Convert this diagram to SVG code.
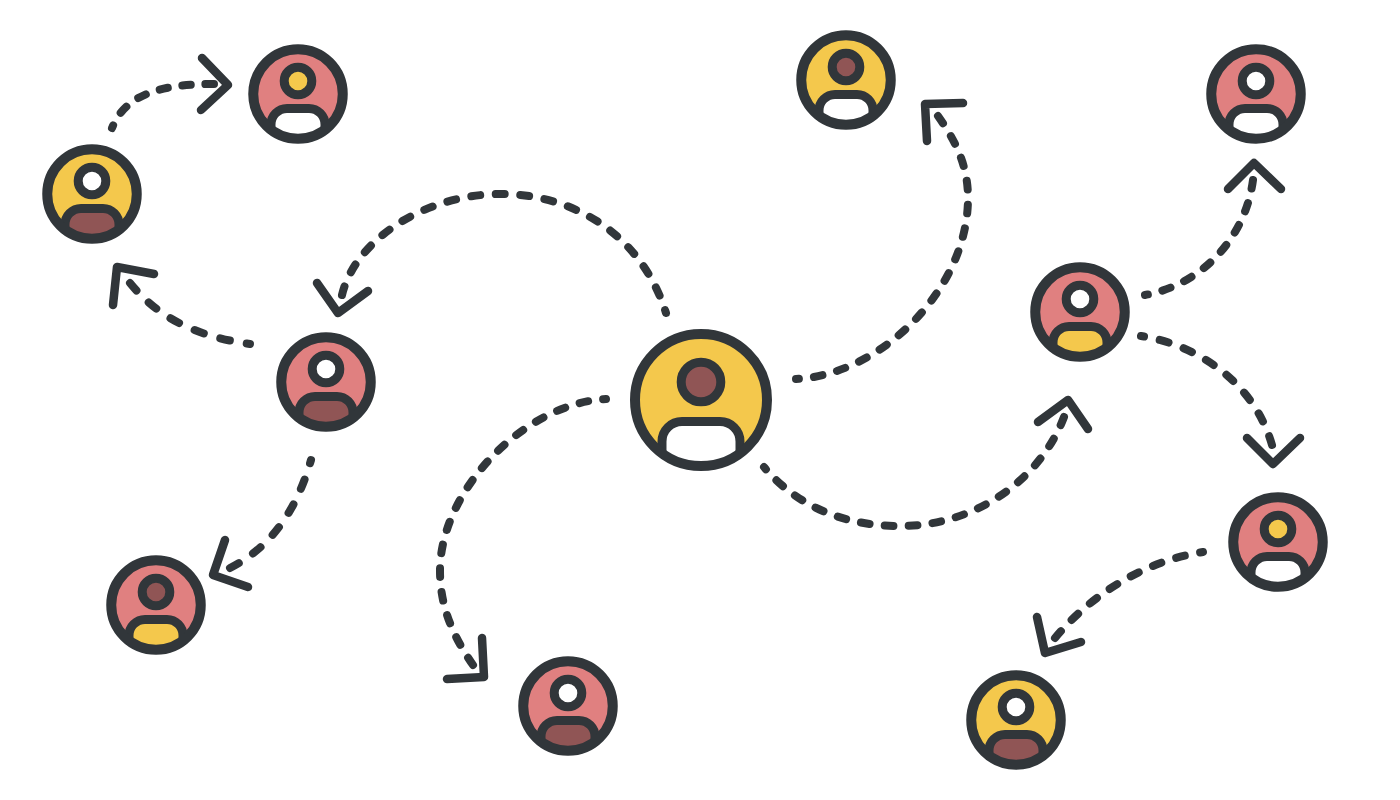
<svg xmlns="http://www.w3.org/2000/svg" width="1400" height="800" viewBox="0 0 1400 800">
<style>
.ring{fill:none;stroke:#31363a;stroke-width:10}
.part{stroke:#31363a;stroke-width:9;stroke-linejoin:round}
.y{fill:#f4c84c}.p{fill:#e08080}.b{fill:#905555}.w{fill:#fff}
.dash{fill:none;stroke:#31363a;stroke-width:8;stroke-linecap:round;stroke-dasharray:9 15.700;stroke-dashoffset:6}
.head{fill:none;stroke:#31363a;stroke-width:8.500;stroke-linecap:round;stroke-linejoin:round}
</style>
<defs>
<clipPath id="cs"><circle r="44.750"/></clipPath>
<clipPath id="cl"><circle r="66"/></clipPath>
<circle id="sbg" r="44.750"/>
<circle id="shead" cy="-13" r="13.800" class="part"/>
<path id="sbody" d="M-27 50V30.500A16 16 0 0 1-11 14.500H11A16 16 0 0 1 27 30.500V50Z" class="part" clip-path="url(#cs)"/>
<circle id="sring" r="44.750" class="ring"/>
</defs>
<rect width="1400" height="800" fill="#fff"/>
<g id="connectors">
<path class="dash" pathLength="126.500" d="M112 128C125 95 160 84 214 84"/><path class="head" d="M202 58L228 85L201 110"/>
<path class="dash" pathLength="422.900" d="M666 313C642 236 575 194 501 194C425 194 355 240 342 295"/><path class="head" d="M317 283L338 313L368 291"/>
<path class="dash" pathLength="126.500" d="M250 344C200 337 160 320 130 283"/><path class="head" d="M113 305L117 267L154 274"/>
<path class="dash" pathLength="126.500" d="M311 460C298 505 275 545 230 568"/><path class="head" d="M225 540L213 575L248 587"/>
<path class="dash" pathLength="373.500" d="M606 399C525 403 440 490 440 571C440 605 452 635 473 665"/><path class="head" d="M482 638L484 677L447 679"/>
<path class="dash" pathLength="373.500" d="M796 379C880 375 968 290 968 198C968 165 955 140 938 116"/><path class="head" d="M927 141L925 104L963 103"/>
<path class="dash" pathLength="373.500" d="M764 467C800 510 850 526 900 526C975 526 1040 480 1064 417"/><path class="head" d="M1038 422L1068 400L1088 429"/>
<path class="dash" pathLength="175.900" d="M1145 295C1200 285 1245 240 1253 180"/><path class="head" d="M1228 189L1254 163L1281 189"/>
<path class="dash" pathLength="175.900" d="M1141 336C1200 345 1255 385 1272 445"/><path class="head" d="M1247 438L1273 464L1300 438"/>
<path class="dash" pathLength="175.900" d="M1203 552C1150 560 1095 590 1055 638"/><path class="head" d="M1037 617L1045 653L1081 642"/>
</g>
<g id="n0" transform="translate(701 400)"><circle r="66" class="y"/><circle cy="-18" r="19.800" class="part b"/><path d="M-39 70V41.500A20 20 0 0 1-19 21.500H19A20 20 0 0 1 39 41.500V70Z" class="part w" clip-path="url(#cl)"/><circle r="66" class="ring"/></g>
<g id="n1" transform="translate(298 94)"><use href="#sbg" class="p"/><use href="#shead" class="y"/><use href="#sbody" class="w"/><use href="#sring"/></g>
<g id="n2" transform="translate(92 194)"><use href="#sbg" class="y"/><use href="#shead" class="w"/><use href="#sbody" class="b"/><use href="#sring"/></g>
<g id="n3" transform="translate(846 80)"><use href="#sbg" class="y"/><use href="#shead" class="b"/><use href="#sbody" class="w"/><use href="#sring"/></g>
<g id="n4" transform="translate(1256 94)"><use href="#sbg" class="p"/><use href="#shead" class="w"/><use href="#sbody" class="w"/><use href="#sring"/></g>
<g id="n5" transform="translate(1080 312)"><use href="#sbg" class="p"/><use href="#shead" class="w"/><use href="#sbody" class="y"/><use href="#sring"/></g>
<g id="n6" transform="translate(326 382)"><use href="#sbg" class="p"/><use href="#shead" class="w"/><use href="#sbody" class="b"/><use href="#sring"/></g>
<g id="n7" transform="translate(156 605)"><use href="#sbg" class="p"/><use href="#shead" class="b"/><use href="#sbody" class="y"/><use href="#sring"/></g>
<g id="n8" transform="translate(568 706)"><use href="#sbg" class="p"/><use href="#shead" class="w"/><use href="#sbody" class="b"/><use href="#sring"/></g>
<g id="n9" transform="translate(1278 542)"><use href="#sbg" class="p"/><use href="#shead" class="y"/><use href="#sbody" class="w"/><use href="#sring"/></g>
<g id="n10" transform="translate(1016 720)"><use href="#sbg" class="y"/><use href="#shead" class="w"/><use href="#sbody" class="b"/><use href="#sring"/></g>
</svg>
